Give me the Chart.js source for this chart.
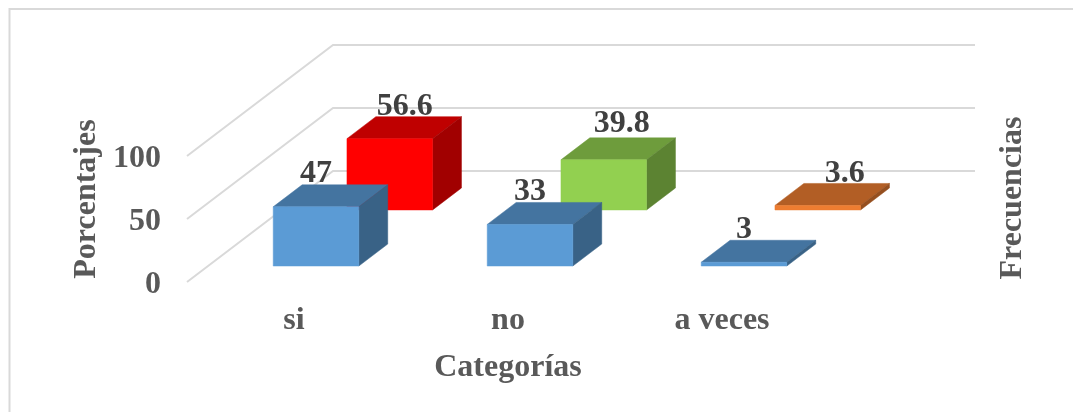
<!DOCTYPE html>
<html>
<head>
<meta charset="utf-8">
<style>
  html, body { margin: 0; padding: 0; background: #fff; }
  canvas { display: block; }
</style>
<script src="https://cdn.jsdelivr.net/npm/chart.js@4"></script>
</head>
<body>
<canvas id="chart3d" width="1073" height="412"></canvas>
<script>
const categories = ['si', 'no', 'a veces'];
const porcentajes = [47, 33, 3];
const frecuencias = [56.6, 39.8, 3.6];
const porcentajesColors = ['#5B9BD5', '#5B9BD5', '#5B9BD5'];
const frecuenciasColors = ['#FF0000', '#92D050', '#ED7D31'];
const yTicks = [0, 50, 100];

const FONT = '"Liberation Serif"';
// how far the back wall sits from the front plane, px
const WALL_DX = 146, WALL_DY = 111;
const BAR_NUDGE = 1;

function shade(hex, f) {
    const n = parseInt(hex.slice(1), 16);
    const c = [n >> 16, (n >> 8) & 255, n & 255].map(v => Math.round(v * f));
    return 'rgb(' + c.join(',') + ')';
}

function face(ctx, pts, color) {
    ctx.beginPath();
    pts.forEach((p, i) => i ? ctx.lineTo(p[0], p[1]) : ctx.moveTo(p[0], p[1]));
    ctx.closePath();
    ctx.fillStyle = color;
    ctx.strokeStyle = color;
    ctx.lineWidth = 0.5;
    ctx.fill();
    ctx.stroke();
}

// bar controller that paints each bar as a box
class Bar3DController extends Chart.BarController {
    draw() {
        const ctx = this.chart.ctx;
        const ds = this.getDataset();
        this.getMeta().data.forEach((bar, i) => {
            const d0 = ds.depthStart, d1 = ds.depthStart + ds.depthSize;
            const px = (x, y, d) => [x + BAR_NUDGE + d * WALL_DX, y - d * WALL_DY];
            const l = bar.x - bar.width / 2, r = bar.x + bar.width / 2;
            const color = ds.backgroundColor[i];
            face(ctx, [px(l, bar.y, d0), px(r, bar.y, d0), px(r, bar.y, d1), px(l, bar.y, d1)], shade(color, 0.75));
            face(ctx, [px(r, bar.y, d0), px(r, bar.y, d1), px(r, bar.base, d1), px(r, bar.base, d0)], shade(color, 0.63));
            face(ctx, [px(l, bar.y, d0), px(r, bar.y, d0), px(r, bar.base, d0), px(l, bar.base, d0)], color);
        });
    }
}
Bar3DController.id = 'bar3d';
Bar3DController.defaults = Chart.BarController.defaults;
Bar3DController.overrides = Chart.BarController.overrides;
Chart.register(Bar3DController);

const wallsPlugin = {
    id: 'walls',
    beforeDatasetsDraw(chart) {
        const ctx = chart.ctx, y = chart.scales.y, area = chart.chartArea;
        ctx.save();
        // chart frame, only top and left survive in the picture
        ctx.strokeStyle = '#D9D9D9';
        ctx.lineWidth = 2;
        ctx.beginPath();
        ctx.moveTo(9.5, 412);
        ctx.lineTo(9.5, 9);
        ctx.lineTo(1073, 9);
        ctx.stroke();
        yTicks.forEach(t => {
            const py = y.getPixelForValue(t);
            ctx.beginPath();
            ctx.moveTo(area.left, py);
            ctx.lineTo(area.left + WALL_DX, py - WALL_DY);
            ctx.lineTo(area.right + WALL_DX, py - WALL_DY);
            ctx.stroke();
        });
        // side titles
        ctx.fillStyle = '#595959';
        ctx.font = 'bold 32px ' + FONT;
        ctx.textAlign = 'center';
        ctx.textBaseline = 'middle';
        [['Porcentajes', 87, 199], ['Frecuencias', 1013, 198]].forEach(t => {
            ctx.save();
            ctx.translate(t[1], t[2]);
            ctx.rotate(-Math.PI / 2);
            ctx.fillText(t[0], 0, 0);
            ctx.restore();
        });
        ctx.restore();
    },
    afterDatasetsDraw(chart) {
        const ctx = chart.ctx;
        ctx.save();
        ctx.fillStyle = '#404040';
        ctx.font = 'bold 32px ' + FONT;
        ctx.textAlign = 'center';
        ctx.textBaseline = 'middle';
        chart.data.datasets.forEach((ds, di) => {
            chart.getDatasetMeta(di).data.forEach((bar, i) => {
                const x = bar.x + BAR_NUDGE + ds.depthStart * WALL_DX + ds.labelShift[i];
                const y = bar.y - ds.depthStart * WALL_DY - ds.labelRaise[i];
                ctx.fillText(String(ds.data[i]), x, y);
            });
        });
        ctx.restore();
    }
};

new Chart(document.getElementById('chart3d'), {
    type: 'bar3d',
    data: {
        labels: categories,
        datasets: [
            { label: 'Porcentajes', data: porcentajes, backgroundColor: porcentajesColors, clip: false,
              depthStart: 0.144, depthSize: 0.198, labelShift: [0, 0, 0], labelRaise: [33, 33, 33] },
            { label: 'Frecuencias', data: frecuencias, backgroundColor: frecuenciasColors, clip: false,
              depthStart: 0.649, depthSize: 0.198, labelShift: [15, 18, 27], labelRaise: [32, 36, 32] }
        ]
    },
    options: {
        responsive: false,
        animation: false,
        grouped: false,
        categoryPercentage: 1,
        barPercentage: 0.4,
        layout: { padding: { left: 60, right: 244, top: 156, bottom: 21 } },
        plugins: { legend: { display: false }, tooltip: { enabled: false } },
        scales: {
            x: {
                grid: { display: false },
                border: { display: false },
                afterFit(s) { s.height = 109; },
                ticks: { color: '#595959', padding: 12, maxRotation: 0, font: { family: FONT, size: 32, weight: 'bold' } },
                title: { display: true, text: 'Categorías', color: '#595959', font: { family: FONT, size: 32, weight: 'bold' } }
            },
            y: {
                min: 0,
                max: 100,
                afterFit(s) { s.width = 127; },
                afterBuildTicks(s) { s.ticks = yTicks.map(v => ({ value: v })); },
                grid: { display: false },
                border: { display: false },
                ticks: { color: '#595959', padding: 18, labelOffset: 3, font: { family: FONT, size: 32, weight: 'bold' } }
            }
        }
    },
    plugins: [wallsPlugin]
});
</script>
</body>
</html>
